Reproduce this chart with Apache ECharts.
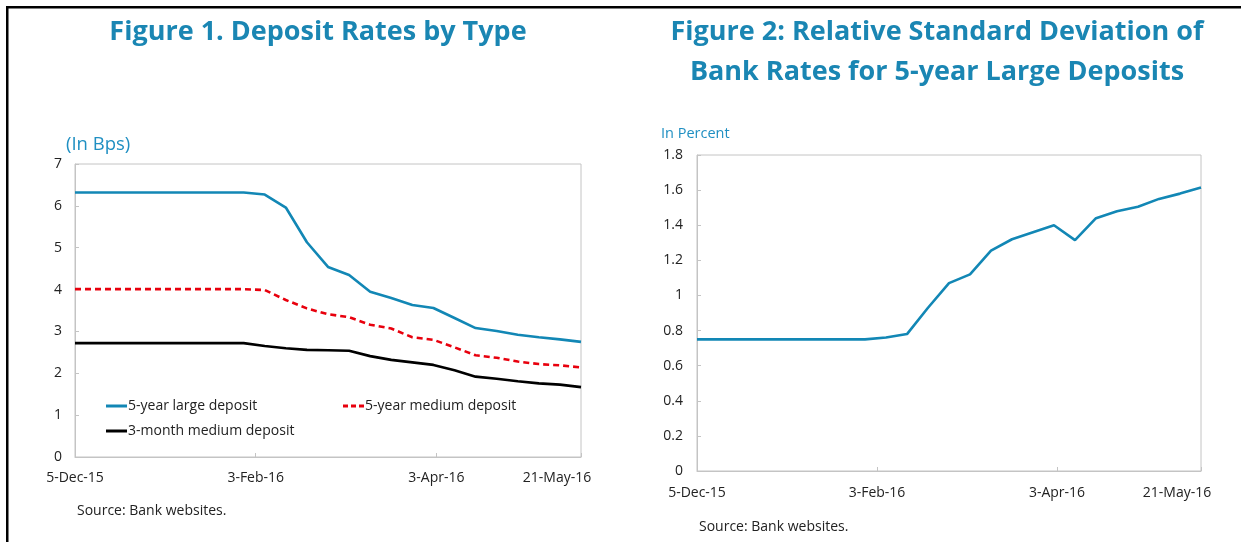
<!DOCTYPE html>
<html>
<head>
<meta charset="utf-8">
<script src="https://cdn.jsdelivr.net/npm/echarts@6/dist/echarts.min.js"></script>
<style>
  html, body { margin: 0; padding: 0; background: #fff; }
  #chart { width: 1241px; height: 542px; }
</style>
</head>
<body>
<div id="chart"></div>
<script>
// ---- Data ----
const dates = ['2015-12-05','2015-12-12','2015-12-19','2015-12-26','2016-01-02','2016-01-09','2016-01-16','2016-01-23','2016-01-30','2016-02-06','2016-02-13','2016-02-20','2016-02-27','2016-03-05','2016-03-12','2016-03-19','2016-03-26','2016-04-02','2016-04-09','2016-04-16','2016-04-23','2016-04-30','2016-05-07','2016-05-14','2016-05-21'];
const largeDeposit5y  = [6.32,6.32,6.32,6.32,6.32,6.32,6.32,6.32,6.32,6.27,5.96,5.13,4.54,4.35,3.95,3.80,3.63,3.56,3.32,3.08,3.01,2.92,2.86,2.81,2.75];
const mediumDeposit5y = [4.01,4.01,4.01,4.01,4.01,4.01,4.01,4.01,4.01,3.99,3.75,3.55,3.41,3.34,3.16,3.07,2.86,2.80,2.62,2.43,2.37,2.28,2.22,2.19,2.14];
const mediumDeposit3m = [2.72,2.72,2.72,2.72,2.72,2.72,2.72,2.72,2.72,2.65,2.60,2.56,2.55,2.54,2.41,2.32,2.26,2.20,2.07,1.92,1.87,1.81,1.76,1.73,1.67];
const relStdDev5yLarge = [0.75,0.75,0.75,0.75,0.75,0.75,0.75,0.75,0.75,0.76,0.78,0.93,1.07,1.12,1.255,1.32,1.36,1.40,1.315,1.44,1.48,1.505,1.55,1.58,1.615];
const tickDates  = ['2015-12-05','2016-02-03','2016-04-03','2016-05-21'];
const tickLabels = ['5-Dec-15','3-Feb-16','3-Apr-16','21-May-16'];
const seriesNames = ['5-year large deposit','5-year medium deposit','3-month medium deposit'];

// ---- Helpers ----
const DAY = 86400000;
const t0 = Date.parse(dates[0] + 'T00:00:00Z');
const dayOf = d => Math.round((Date.parse(d + 'T00:00:00Z') - t0) / DAY);
const xs = dates.map(dayOf);
const tickDays = tickDates.map(dayOf);
const pair = vals => vals.map((v, i) => [xs[i], v]);
const xMax = tickDays[tickDays.length - 1];
const xLabel = v => {
  const i = tickDays.indexOf(Math.round(v));
  if (i < 0) return '';
  return i === tickDays.length - 1 ? '{last|' + tickLabels[i] + '}' : tickLabels[i];
};

const FONT = '"Open Sans", "Noto Sans", sans-serif';
const BLUE = '#1287b5';
const RED = '#e8000d';
const TITLE = '#1a86b3';
const GRAY = '#c4c4c4';
const TXT = '#222222';
const SOLID_ICON = 'path://M0,0H21V3H0Z';
const DASH_ICON = 'path://M0,0H5V3H0Z M8,0H13V3H8Z M16,0H21V3H16Z';

function xAxis(gridIndex, margin) {
  return {
    type: 'value', gridIndex, min: 0, max: xMax, interval: 60,
    axisLine: { lineStyle: { color: GRAY, width: 1 } },
    axisTick: { show: true, inside: true, length: 4, lineStyle: { color: GRAY } },
    splitLine: { show: false },
    axisLabel: {
      formatter: xLabel, color: TXT, fontSize: 14, fontFamily: FONT, margin,
      rich: { last: { color: TXT, fontSize: 14, fontFamily: FONT, padding: [0, 48, 0, 0] } }
    }
  };
}
function yAxis(gridIndex, max, interval, margin) {
  return {
    type: 'value', gridIndex, min: 0, max, interval,
    axisLine: { show: true, lineStyle: { color: GRAY, width: 1 } },
    axisTick: { show: true, inside: true, length: 4, lineStyle: { color: GRAY } },
    splitLine: { show: false },
    axisLabel: { color: TXT, fontSize: 14, fontFamily: FONT, margin }
  };
}
function legend(name, icon, left, top) {
  return {
    data: [{ name, icon }], left, top, itemWidth: 21, itemHeight: 3, itemGap: 0,
    selectedMode: false,
    textStyle: { color: TXT, fontSize: 14, fontFamily: FONT, padding: [0, 0, 0, -4] }
  };
}
function gtext(text, x, y, size, weight, color, align) {
  return {
    type: 'text', silent: true,
    style: { text, x, y, fill: color, font: weight + ' ' + size + 'px ' + FONT,
             textAlign: align || 'left', textVerticalAlign: 'middle' }
  };
}

const chart = echarts.init(document.getElementById('chart'), null, { renderer: 'canvas' });
chart.setOption({
  animation: false,
  backgroundColor: '#ffffff',
  grid: [
    { left: 75, top: 164, width: 506, height: 293, show: true, borderColor: GRAY, borderWidth: 1 },
    { left: 697, top: 155, width: 504, height: 316, show: true, borderColor: GRAY, borderWidth: 1 }
  ],
  xAxis: [xAxis(0, 14), xAxis(1, 15)],
  yAxis: [yAxis(0, 7, 1, 13), yAxis(1, 1.8, 0.2, 14)],
  legend: [
    legend(seriesNames[0], SOLID_ICON, 101, 394),
    legend(seriesNames[1], DASH_ICON, 338, 394),
    legend(seriesNames[2], SOLID_ICON, 101, 419)
  ],
  series: [
    { name: seriesNames[0], type: 'line', xAxisIndex: 0, yAxisIndex: 0, data: pair(largeDeposit5y),
      symbol: 'none', lineStyle: { color: BLUE, width: 2.6 }, itemStyle: { color: BLUE } },
    { name: seriesNames[1], type: 'line', xAxisIndex: 0, yAxisIndex: 0, data: pair(mediumDeposit5y),
      symbol: 'none', lineStyle: { color: RED, width: 2.6, type: [6, 4] }, itemStyle: { color: RED } },
    { name: seriesNames[2], type: 'line', xAxisIndex: 0, yAxisIndex: 0, data: pair(mediumDeposit3m),
      symbol: 'none', lineStyle: { color: '#000000', width: 2.6 }, itemStyle: { color: '#000000' } },
    { name: 'Relative standard deviation', type: 'line', xAxisIndex: 1, yAxisIndex: 1, data: pair(relStdDev5yLarge),
      symbol: 'none', lineStyle: { color: BLUE, width: 2.6 }, itemStyle: { color: BLUE } }
  ],
  graphic: [
    { type: 'rect', silent: true, shape: { x: 6, y: 6, width: 1235, height: 2.5 }, style: { fill: '#000' } },
    { type: 'rect', silent: true, shape: { x: 6, y: 6, width: 2.5, height: 536 }, style: { fill: '#000' } },
    gtext('Figure 1. Deposit Rates by Type', 318, 32, 27, 'bold', TITLE, 'center'),
    gtext('Figure 2: Relative Standard Deviation of', 937, 32, 27, 'bold', TITLE, 'center'),
    gtext('Bank Rates for 5-year Large Deposits', 937, 72, 27, 'bold', TITLE, 'center'),
    gtext('(In Bps)', 66, 145, 18.5, 'normal', '#1f8fc2', 'left'),
    gtext('In Percent', 661, 134, 14.5, 'normal', '#1f8fc2', 'left'),
    gtext('Source: Bank websites.', 77, 511, 14, 'normal', TXT, 'left'),
    gtext('Source: Bank websites.', 699, 527, 14, 'normal', TXT, 'left')
  ]
});
</script>
</body>
</html>
